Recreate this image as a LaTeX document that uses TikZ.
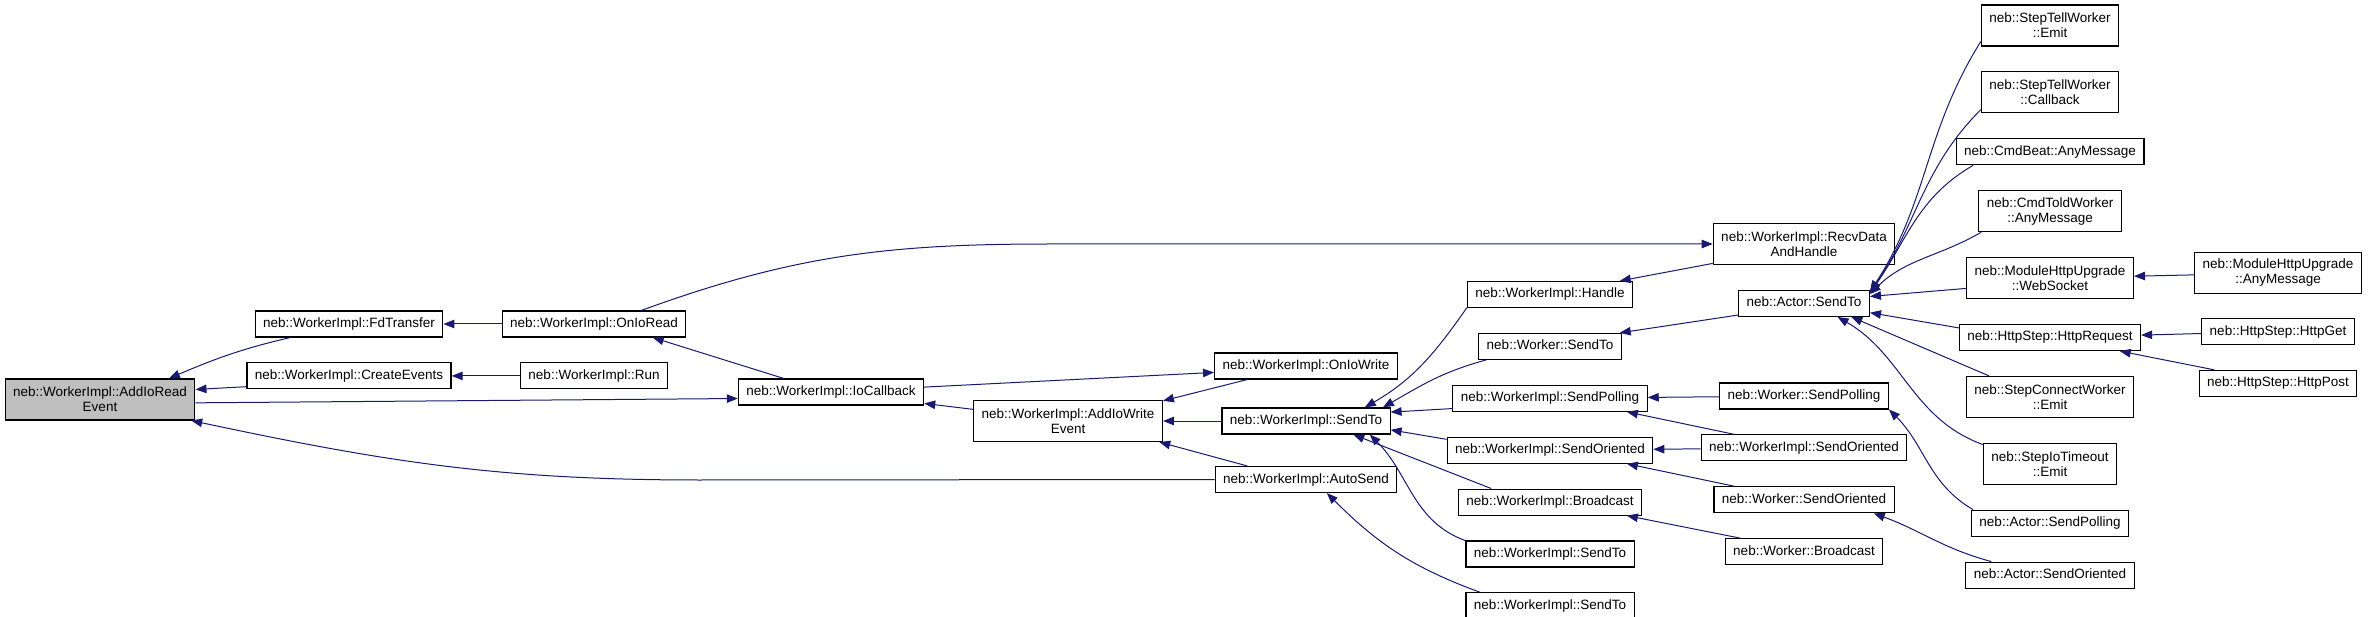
\documentclass[tikz,border=0pt]{standalone}
\usepackage{fontspec}
\setmainfont{Liberation Sans}
\usetikzlibrary{arrows.meta,positioning}
\definecolor{edgeblue}{HTML}{191970}
\definecolor{rootgray}{HTML}{BFBFBF}

\begin{document}
\begin{tikzpicture}[
  x=1pt, y=1pt,
  node distance=24.8pt,
  box/.style={draw, line width=1.1pt, fill=white, font=\fontsize{13.5}{15}\selectfont, inner xsep=8pt},
  fn/.style={box, minimum height=26pt, text height=10pt, text depth=3pt},
  fn2/.style={box, align=center, minimum height=41pt},
  arr/.style={-{Triangle[length=11pt,width=8.5pt]}, draw=edgeblue, line width=1pt}
]
  \useasboundingbox (0,0) rectangle (2368,-617);

  \node[fn2, fill=rootgray] (air) at (100,-399.5) {neb::WorkerImpl::AddIoRead\\Event};
  \node[fn] (fdt) at (349,-324) {neb::WorkerImpl::FdTransfer};
  \node[fn, below=of fdt] (cev) {neb::WorkerImpl::CreateEvents};
  \node[fn] (oir) at (594,-324) {neb::WorkerImpl::OnIoRead};
  \node[fn, below=of oir] (run) {neb::WorkerImpl::Run};
  \node[fn] (ioc) at (831,-392) {neb::WorkerImpl::IoCallback};
  \node[fn2] (aiw) at (1068,-421) {neb::WorkerImpl::AddIoWrite\\Event};
  \node[fn] (oiw) at (1306,-366) {neb::WorkerImpl::OnIoWrite};
  \node[fn] (wst) at (1306,-421) {neb::WorkerImpl::SendTo};
  \node[fn] (aus) at (1306,-479.5) {neb::WorkerImpl::AutoSend};

  \node[fn] (hdl) at (1550,-294.5) {neb::WorkerImpl::Handle};
  \node[fn, below=of hdl] (wks) {neb::Worker::SendTo};
  \node[fn, below=of wks] (wsp) {neb::WorkerImpl::SendPolling};
  \node[fn, below=of wsp] (wso) {neb::WorkerImpl::SendOriented};
  \node[fn, below=of wso] (wbc) {neb::WorkerImpl::Broadcast};
  \node[fn, below=of wbc] (wsa) {neb::WorkerImpl::SendTo};
  \node[fn, below=of wsa] (wsb) {neb::WorkerImpl::SendTo};

  \node[fn2] (rdh) at (1804,-244) {neb::WorkerImpl::RecvData\\AndHandle};
  \node[fn, below=of rdh] (ast) {neb::Actor::SendTo};
  \node[fn] (kpl) at (1804,-396) {neb::Worker::SendPolling};
  \node[fn, below=of kpl] (wsr) {neb::WorkerImpl::SendOriented};
  \node[fn, below=of wsr] (kso) {neb::Worker::SendOriented};
  \node[fn, below=of kso] (kbc) {neb::Worker::Broadcast};

  \node[fn2] (ste) at (2050,-25.5) {neb::StepTellWorker\\::Emit};
  \node[fn2, below=of ste] (stc) {neb::StepTellWorker\\::Callback};
  \node[fn, below=of stc] (cba) {neb::CmdBeat::AnyMessage};
  \node[fn2, below=of cba] (ctw) {neb::CmdToldWorker\\::AnyMessage};
  \node[fn2, below=of ctw] (mws) {neb::ModuleHttpUpgrade\\::WebSocket};
  \node[fn, below=of mws] (hrq) {neb::HttpStep::HttpRequest};
  \node[fn2, below=of hrq] (sce) {neb::StepConnectWorker\\::Emit};
  \node[fn2, below=of sce] (sit) {neb::StepIoTimeout\\::Emit};
  \node[fn, below=of sit] (asp) {neb::Actor::SendPolling};
  \node[fn, below=of asp] (aso) {neb::Actor::SendOriented};

  \node[fn2] (mam) at (2278,-273) {neb::ModuleHttpUpgrade\\::AnyMessage};
  \node[fn] (hgt) at (2278,-331.5) {neb::HttpStep::HttpGet};
  \node[fn, below=of hgt] (hpo) {neb::HttpStep::HttpPost};

  \draw[arr] (fdt.193) to[out=193,in=23] (air.17);
  \draw[arr] (cev.186) -- (air.6);
  \draw[arr] (air.-2) -- (ioc.184);
  \draw[arr] (aus.west) -- (700,-480) to[out=180,in=-12] (air.-13);
  \draw[arr] (oir) -- (fdt);
  \draw[arr] (run) -- (cev);
  \draw[arr] (ioc.164) -- (oir.-13);
  \draw[arr] (oir.16) to[out=20,in=180] (1050,-244) -- (rdh.west);
  \draw[arr] (ioc.3) -- (oiw.184);
  \draw[arr] (aiw.173) -- (ioc.-7);
  \draw[arr] (oiw.193) -- (aiw.12);
  \draw[arr] (wst) -- (aiw);
  \draw[arr] (aus.167) -- (aiw.-13);
  \draw[arr] (wsb.169) to[out=160,in=-45] (aus.-33);
  \draw[arr] (rdh.192) -- (hdl.11);
  \draw[arr] (hdl.189) to[out=235,in=30] (wst.13);
  \draw[arr] (wks.192) to[out=195,in=30] (wst.10);
  \draw[arr] (wsp.186) -- (wst.6);
  \draw[arr] (wso.174) -- (wst.-6);
  \draw[arr] (wbc.167) -- (wst.-16);
  \draw[arr] (wsa.171) to[out=160,in=-45] (wst.-12);
  \draw[arr] (ast.190) -- (wks.11);
  \draw[arr] (kpl) -- (wsp);
  \draw[arr] (wsr.169) -- (wsp.-10);
  \draw[arr] (wsr) -- (wso);
  \draw[arr] (kso.169) -- (wso.-10);
  \draw[arr] (kbc.168) -- (wbc.-10);
  \draw[arr] (asp.170) to[out=150,in=-45] (kpl.-9);
  \draw[arr] (aso.167) to[out=165,in=-20] (kso.-11);
  \draw[arr] (ste.193) to[out=238,in=57] (ast.10);
  \draw[arr] (stc.194) to[out=225,in=55] (ast.10);
  \draw[arr] (cba.190) to[out=210,in=55] (ast.9);
  \draw[arr] (ctw.197) to[out=210,in=45] (ast.8);
  \draw[arr] (mws.187) -- (ast.6);
  \draw[arr] (hrq.174) -- (ast.-8);
  \draw[arr] (sce.161) -- (ast.-16);
  \draw[arr] (sit.164) to[out=160,in=-30] (ast.-22);
  \draw[arr] (mam) -- (mws);
  \draw[arr] (hgt) -- (hrq);
  \draw[arr] (hpo.168) -- (hrq.-11);
\end{tikzpicture}
\end{document}
